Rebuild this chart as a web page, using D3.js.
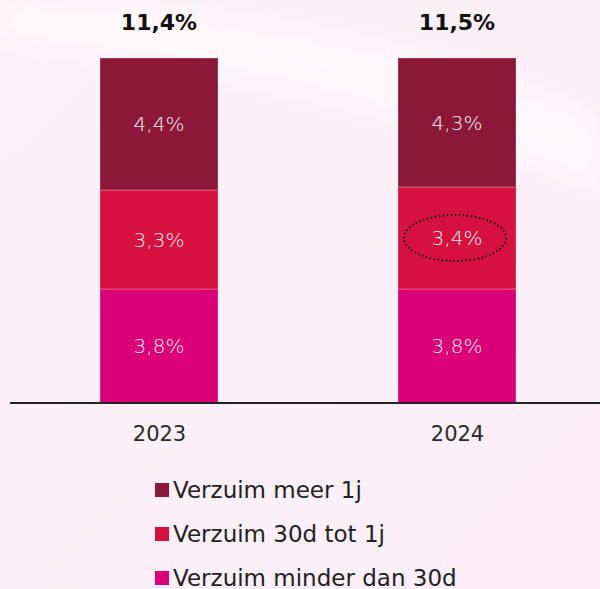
<!DOCTYPE html>
<html>
<head>
<meta charset="utf-8">
<script src="https://cdn.jsdelivr.net/npm/d3@7"></script>
<style>
body { margin: 0; padding: 0; }
svg { display: block; font-family: "DejaVu Sans", sans-serif; }
</style>
</head>
<body>
<div id="graph"></div>
<script>
var years = ['2023', '2024'];
var series = ['Verzuim minder dan 30d', 'Verzuim 30d tot 1j', 'Verzuim meer 1j'];
var kort = [3.8, 3.8];
var middel = [3.3, 3.4];
var lang = [4.4, 4.3];
var totals = ['11,4%', '11,5%'];
var colors = ['#db0078', '#d7113f', '#8b1839'];
var legendOrder = ['Verzuim meer 1j', 'Verzuim 30d tot 1j', 'Verzuim minder dan 30d'];

var svgWidth = 600, svgHeight = 589;
var svg = d3.select('#graph').append('svg').attr('width', svgWidth).attr('height', svgHeight);

// background
var defs = svg.append('defs');
var bg = defs.append('linearGradient').attr('id', 'bg').attr('x1', 0).attr('y1', 0).attr('x2', 1).attr('y2', 1);
bg.append('stop').attr('offset', 0).attr('stop-color', '#fcf1f6');
bg.append('stop').attr('offset', 1).attr('stop-color', '#fdeef7');
defs.append('filter').attr('id', 'blur').append('feGaussianBlur').attr('stdDeviation', 12);
svg.append('rect').attr('width', svgWidth).attr('height', svgHeight).attr('fill', 'url(#bg)');
svg.append('path')
  .attr('d', 'M0,40 C150,60 350,80 600,190 L600,120 C420,40 200,10 0,0 Z')
  .attr('fill', '#ffffff').attr('opacity', 0.55).attr('filter', 'url(#blur)');

var data = years.map(function(y, i) {
  return {year: y, 'Verzuim minder dan 30d': kort[i], 'Verzuim 30d tot 1j': middel[i], 'Verzuim meer 1j': lang[i], total: totals[i]};
});

var x = d3.scalePoint().domain(years).range([10, 606]).padding(0.5);
var y = d3.scaleLinear().domain([0, 11.6]).range([403, 55]);
var barW = 118;
var color = d3.scaleOrdinal().domain(series).range(colors);

var stack = d3.stack().keys(series)(data);

var layers = svg.selectAll('.layer').data(stack).enter().append('g')
  .attr('class', 'layer')
  .attr('fill', function(d) { return color(d.key); });

layers.selectAll('rect').data(function(d) { return d; }).enter().append('rect')
  .attr('x', function(d) { return x(d.data.year) - barW / 2; })
  .attr('y', function(d) { return y(d[1]); })
  .attr('width', barW)
  .attr('height', function(d) { return y(d[0]) - y(d[1]); })
  .attr('stroke', 'rgba(255,255,255,0.25)')
  .attr('stroke-width', 1);

layers.selectAll('text').data(function(d) { return d; }).enter().append('text')
  .attr('x', function(d) { return x(d.data.year); })
  .attr('y', function(d) { return (y(d[0]) + y(d[1])) / 2; })
  .attr('dy', '0.35em')
  .attr('text-anchor', 'middle')
  .attr('fill', '#fbeef2')
  .style('font-size', '20px')
  .style('font-weight', 200)
  .text(function(d) { return (Math.round((d[1] - d[0]) * 10) / 10).toFixed(1).replace('.', ',') + '%'; });

// totals
svg.selectAll('.total').data(data).enter().append('text')
  .attr('class', 'total')
  .attr('x', function(d) { return x(d.year); })
  .attr('y', 30)
  .attr('text-anchor', 'middle')
  .attr('fill', '#111')
  .style('font-size', '22px')
  .style('font-weight', 'bold')
  .text(function(d) { return d.total; });

// axis
var axis = svg.append('g').attr('transform', 'translate(0,403)')
  .call(d3.axisBottom(x).tickSize(0).tickPadding(23));
axis.select('.domain').attr('d', 'M10,0H600').attr('stroke', '#222').attr('stroke-width', 2);
axis.attr('font-size', 21).attr('font-family', '"DejaVu Sans", sans-serif');
axis.selectAll('.tick text').attr('fill', '#2a2a2a');

// highlight ellipse around 3,4%
var hl = stack[1][1];
svg.append('ellipse')
  .attr('cx', x('2024') - 2)
  .attr('cy', (y(hl[0]) + y(hl[1])) / 2)
  .attr('rx', 51).attr('ry', 23)
  .attr('fill', 'none').attr('stroke', '#111')
  .attr('stroke-width', 2).attr('stroke-dasharray', '1.5,2.5');

// legend
var legend = svg.selectAll('.legend').data(legendOrder).enter().append('g')
  .attr('class', 'legend')
  .attr('transform', function(d, i) { return 'translate(155,' + (490 + i * 44) + ')'; });
legend.append('rect').attr('x', 0).attr('y', -7).attr('width', 14).attr('height', 14)
  .attr('fill', function(d) { return color(d); });
legend.append('text').attr('x', 18).attr('dy', '0.35em')
  .attr('fill', '#222').style('font-size', '23px')
  .text(function(d) { return d; });
</script>
</body>
</html>
